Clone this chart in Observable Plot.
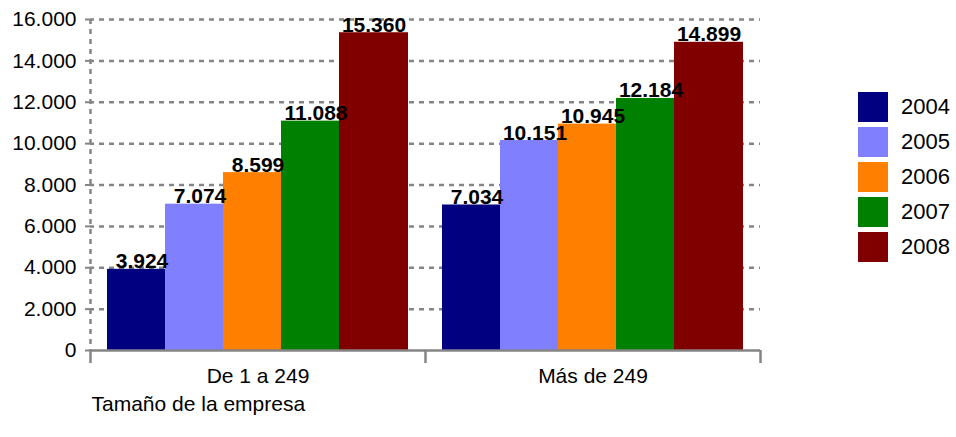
<!DOCTYPE html>
<html>
<head>
<meta charset="utf-8">
<script src="https://cdn.jsdelivr.net/npm/d3@7"></script>
<script src="https://cdn.jsdelivr.net/npm/@observablehq/plot@0.6"></script>
<style>
  html, body { margin: 0; padding: 0; background: #fff; }
  #wrap { position: relative; width: 956px; height: 437px; font-family: "Liberation Sans", Arial, sans-serif; }
  #legend { position: absolute; left: 858px; top: 92px; }
  .row { display: flex; align-items: center; height: 30px; margin-bottom: 5px; }
  .sw { width: 30px; height: 30px; margin-right: 13px; }
  .lab { font-size: 22px; color: #000; }
</style>
</head>
<body>
<div id="wrap"></div>
<script>
// ---- data ----
const groups = ["De 1 a 249", "Más de 249"];
const years = ["2004", "2005", "2006", "2007", "2008"];
const values2004 = [3924, 7034];
const values2005 = [7074, 10151];
const values2006 = [8599, 10945];
const values2007 = [11088, 12184];
const values2008 = [15360, 14899];
const colors = ["#000080", "#8080ff", "#ff8000", "#008000", "#800000"];
const yTicks = [0, 2000, 4000, 6000, 8000, 10000, 12000, 14000, 16000];
const axisTitle = "Tamaño de la empresa";

// ---- table ----
const series = [values2004, values2005, values2006, values2007, values2008];
const rows = [];
groups.forEach((g, gi) => {
  years.forEach((yr, yi) => {
    rows.push({group: g, gi, year: yr, yi, value: series[yi][gi]});
  });
});

// ---- layout (fractions of one category slot on the linear x scale) ----
const slot = 335;
const lead = 17 / slot, step = 58 / slot, barW = 69 / slot;
const x1 = d => d.gi + lead + d.yi * step;
const x2 = d => x1(d) + barW;
const xm = d => (x1(d) + x2(d)) / 2;

const fmt = d3.formatLocale({decimal: ",", thousands: ".", grouping: [3], currency: ["", "€"]}).format(",");
const gray = "#858585";
const font = "Liberation Sans, Arial, sans-serif";

const chart = Plot.plot({
  width: 956,
  height: 437,
  marginLeft: 90,
  marginRight: 196,
  marginTop: 19,
  marginBottom: 87,
  style: {fontFamily: font, fontSize: "21px", color: "#000", background: "#fff"},
  x: {domain: [0, groups.length], axis: null},
  y: {domain: [0, 16000], axis: null},
  color: {domain: years, range: colors},
  marks: [
    // dashed horizontal grid
    Plot.ruleY(yTicks.filter(d => d > 0), {stroke: gray, strokeWidth: 2.5, strokeDasharray: "5,5", strokeDashoffset: 1}),
    // dashed vertical value axis
    Plot.ruleX([0], {stroke: gray, strokeWidth: 2.5, strokeDasharray: "5,5"}),
    // y tick labels and small ticks
    Plot.axisY({ticks: yTicks, tickFormat: fmt, label: null, tickSize: 5, tickPadding: 9, stroke: gray, strokeWidth: 2, fontSize: 21, fill: "#000"}),
    // bars
    Plot.rectY(rows, {x1, x2, y: "value", fill: "year"}),
    // value labels
    Plot.text(rows, {x: xm, y: "value", text: d => fmt(d.value), lineAnchor: "bottom", dy: -1, fontWeight: "bold", fontSize: 21, fill: "#000"}),
    // category axis line
    Plot.ruleY([0], {stroke: gray, strokeWidth: 2.5}),
    // category separator ticks
    Plot.axisX({ticks: d3.range(groups.length + 1), tickFormat: () => "", label: null, tickSize: 13, stroke: gray, strokeWidth: 2.5}),
    // category labels
    Plot.axisX({ticks: groups.map((g, i) => i + 0.5), tickFormat: d => groups[Math.floor(d)], label: null, tickSize: 0, tickPadding: 18, fontSize: 21, fill: "#000"}),
    // axis title
    Plot.text([axisTitle], {frameAnchor: "bottom-left", textAnchor: "start", lineAnchor: "bottom", dy: 60, dx: 1, fontSize: 21, fill: "#000"})
  ]
});

const wrap = document.getElementById("wrap");
wrap.appendChild(chart);

// legend
const color = chart.scale("color");
const legend = document.createElement("div");
legend.id = "legend";
years.forEach(yr => {
  const row = document.createElement("div");
  row.className = "row";
  const sw = document.createElement("div");
  sw.className = "sw";
  sw.style.background = color.apply(yr);
  const lab = document.createElement("span");
  lab.className = "lab";
  lab.textContent = yr;
  row.appendChild(sw);
  row.appendChild(lab);
  legend.appendChild(row);
});
wrap.appendChild(legend);
</script>
</body>
</html>
